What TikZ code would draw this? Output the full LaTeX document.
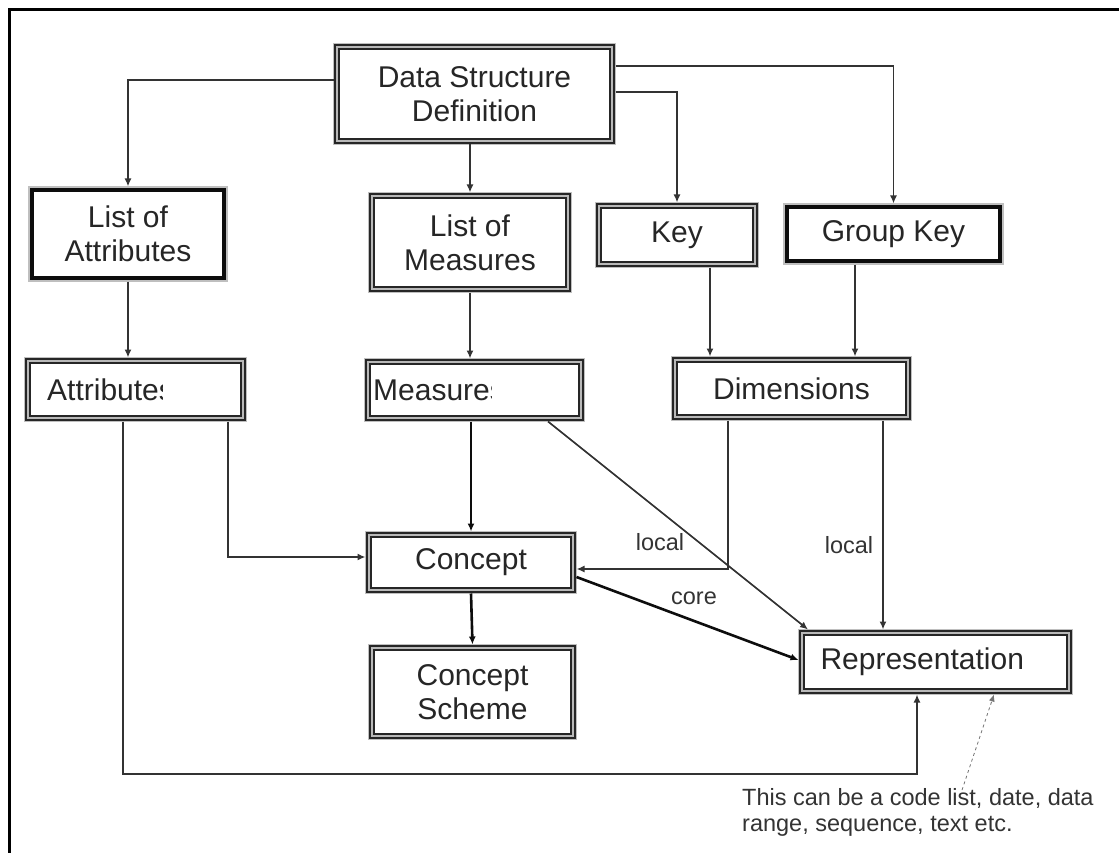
\documentclass[tikz,border=0pt]{standalone}
\usepackage{fontspec}
\setmainfont{Liberation Sans}
\usetikzlibrary{arrows.meta,calc}

\begin{document}
\begin{tikzpicture}[x=1pt,y=-1pt,
  boxfont/.style={font=\fontsize{30}{34}\selectfont, text=black!85},
  lbl/.style={font=\fontsize{23.5}{26}\selectfont, text=black!80, inner sep=0pt},
  dbox/.style={rectangle, inner sep=0pt, outer sep=3.5pt, fill=white, align=center, boxfont,
    preaction={draw=gray!50, line width=8.5pt},
    draw=black!85, line width=1.8pt, double=gray!55, double distance=2pt},
  hbox/.style={rectangle, inner sep=0pt, outer sep=3.5pt, fill=white, align=center, boxfont,
    preaction={draw=gray!50, line width=8pt},
    draw=black!95, line width=4pt},
  link/.style={draw=black!80, line width=1.7pt},
  arr/.style={link, -{Latex[length=8pt,width=7pt]}},
  heavyarr/.style={arr, draw=black!95, line width=2.6pt},
  hintarr/.style={draw=black!55, line width=0.8pt, dashed, -{Latex[length=7pt,width=6pt]}}
]
\useasboundingbox (0,0) rectangle (1119,853);

% page frame
\draw[line width=3pt] (1119,10) -- (9,10) -- (9,853);

% boxes
\node[dbox, minimum width=275pt, minimum height=94pt] (dsd) at (474.5,94) {Data Structure\\Definition};
\node[hbox, minimum width=192pt, minimum height=88pt] (loa) at (128,234) {List of\\Attributes};
\node[dbox, minimum width=196pt, minimum height=93pt] (lom) at (470,242.5) {List of\\Measures};
\node[dbox, minimum width=156pt, minimum height=58pt] (key) at (677,235) {Key};
\node[hbox, minimum width=213pt, minimum height=54pt] (gkey) at (893.5,234) {Group Key};
\node[dbox, minimum width=215pt, minimum height=57pt] (attr) at (135.5,389.5) {};
\node[dbox, minimum width=213pt, minimum height=56pt] (meas) at (474.5,390) {};
\node[dbox, minimum width=233pt, minimum height=57pt] (dim) at (791.5,388.5) {Dimensions};
\node[dbox, minimum width=204pt, minimum height=55pt] (concept) at (471,562.5) {Concept};
\node[dbox, minimum width=201pt, minimum height=88pt] (cs) at (472.5,692) {Concept\\Scheme};
\node[dbox, minimum width=267pt, minimum height=58pt, text width=230pt, align=left] (repr) at (935.5,662) {Representation};

% box texts cut short by their frames
\begin{scope}
  \clip (30,362) rectangle (162,418);
  \node[boxfont, inner sep=0pt, anchor=west] (attrtxt) at (47,390) {Attributes};
\end{scope}
\begin{scope}
  \clip (368,362) rectangle (491,418);
  \node[boxfont, inner sep=0pt, anchor=west] (meastxt) at (373,390) {Measures};
\end{scope}

% helper coordinates for connector routes
\coordinate (y66) at (0,66);
\coordinate (y80) at (0,80);
\coordinate (y92) at (0,92);
\coordinate (kx) at (710,0);
\coordinate (gx) at (855,0);
\coordinate (ax1) at (123,0);
\coordinate (ax2) at (228,0);
\coordinate (ybot) at (0,774);
\coordinate (rx1) at (917,0);
\coordinate (yattc) at (0,557);
\coordinate (dx1) at (728,0);
\coordinate (dx2) at (883,0);
\coordinate (ydc) at (0,569);
\coordinate (mx) at (548,0);
\coordinate (rtx) at (808,0);
\coordinate (ycore1) at (0,577);
\coordinate (ycore2) at (0,660);
\coordinate (hx) at (994,0);

% connectors
\draw[arr] (dsd.west |- y80) -| (loa.north);
\draw[arr] (dsd.south -| lom.north) -- (lom.north);
\draw[arr] (dsd.east |- y92) -| (key.north);
\draw[arr] (dsd.east |- y66) -| (gkey.north);
\draw[arr] (loa.south) -- (loa.south |- attr.north);
\draw[arr] (lom.south) -- (lom.south |- meas.north);
\draw[arr] (key.south -| kx) -- (dim.north -| kx);
\draw[arr] (gkey.south -| gx) -- (dim.north -| gx);
\draw[arr] (attr.south -| ax2) |- (concept.west |- yattc);
\draw[arr] (attr.south -| ax1) -- (ax1 |- ybot) -| (repr.south -| rx1);
\draw[heavyarr] (meas.south -| concept.north) -- (concept.north);
\draw[heavyarr] (concept.south) -- (cs.north);
\draw[arr] (dim.south -| dx1) -- (dx1 |- ydc) -- (concept.east |- ydc);
\draw[arr] (meas.south -| mx) -- (repr.north -| rtx);
\draw[heavyarr] (concept.east |- ycore1) -- (repr.west |- ycore2);
\draw[arr] (dim.south -| dx2) -- (repr.north -| dx2);

% labels
\node[lbl] (lloc1) at (660,542) {local};
\node[lbl] (lcore) at (694,598) {core};
\node[lbl] (lloc2) at (849,545) {local};

% note on representation
\node[lbl, align=left, anchor=west] (note) at (742,812) {This can be a code list, date, data\\range, sequence, text etc.};
\coordinate (notetip) at (962,790);
\draw[hintarr] (notetip) -- (repr.south -| hx);
\end{tikzpicture}
\end{document}
